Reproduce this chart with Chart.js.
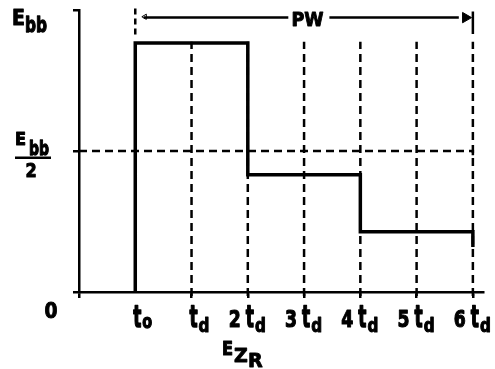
<!DOCTYPE html>
<html>
<head>
<meta charset="utf-8">
<script src="https://cdn.jsdelivr.net/npm/chart.js@4"></script>
<style>
  html, body { margin: 0; padding: 0; background: #fff; }
  #wrap { width: 495px; height: 369px; }
</style>
</head>
<body>
<div id="wrap"><canvas id="pulse"></canvas></div>
<script>
// x in units of t_d measured from t_o, y as a fraction of Ebb
const xTicks = [0, 1, 2, 3, 4, 5, 6];
const xTickCoef = ['', '', '2', '3', '4', '5', '6'];
const xTickSub = ['o', 'd', 'd', 'd', 'd', 'd', 'd'];
const xAxisTicks = [-1, 1, 2, 3, 4, 5, 6];
const yAxisTicks = [0, 0.5, 1];

const pulseX = [0, 0, 2, 2, 4, 4, 6, 6];
const pulseY = [0, 0.883, 0.883, 0.416, 0.416, 0.214, 0.214, 0.16];

const dashedX = [1, 2, 3, 4, 5, 6];
const dashedTop = 0.887;
const halfLevel = 0.5;
const pwLevel = 0.973;

const font = '"DejaVu Sans", sans-serif';

function pts(xs, ys) {
    return xs.map((x, i) => ({x: x, y: ys[i]}));
}

const datasets = [];

// pulse
datasets.push({
    data: pts(pulseX, pulseY),
    borderColor: '#000', borderWidth: 3.5, pointRadius: 0
});

// dashed t_d lines
dashedX.forEach(x => {
    datasets.push({
        data: pts([x, x], [-0.014, dashedTop]),
        borderColor: '#000', borderWidth: 2.5, borderDash: [8, 5], pointRadius: 0
    });
});

// Ebb/2 level
datasets.push({
    data: pts([-1, 6, 6], [halfLevel, halfLevel, halfLevel - 0.015]),
    borderColor: '#000', borderWidth: 2.5, borderDash: [8, 5], pointRadius: 0
});

// dashed line above t_o
datasets.push({
    data: pts([0, 0], [1.005, 0.905]),
    borderColor: '#000', borderWidth: 2.5, borderDash: [6, 4], pointRadius: 0
});

// PW arrow line, broken for the label
datasets.push({
    data: [{x: 0.15, y: pwLevel}, {x: 2.72, y: pwLevel}, {x: 2.9, y: null}, {x: 3.45, y: pwLevel}, {x: 5.75, y: pwLevel}],
    borderColor: '#000', borderWidth: 2.5, pointRadius: 0, spanGaps: false
});
// PW end mark at 6t_d
datasets.push({
    data: pts([6, 6], [0.995, 0.915]),
    borderColor: '#000', borderWidth: 2.5, pointRadius: 0
});
// arrow heads
datasets.push({
    data: [{x: 5.87, y: pwLevel}],
    showLine: false, pointStyle: 'triangle', rotation: 90, pointRadius: 6,
    backgroundColor: '#000', borderColor: '#000', borderWidth: 1
});
datasets.push({
    data: [{x: 0.17, y: pwLevel + 0.003}],
    showLine: false, pointStyle: 'triangle', rotation: -90, pointRadius: 3,
    backgroundColor: '#fff', borderColor: '#000', borderWidth: 1
});

// narrow hand lettering: draw text squeezed horizontally by sx
function txt(ctx, s, x, y, size, align, sx) {
    ctx.save();
    ctx.font = 'bold ' + size + 'px ' + font;
    const w = ctx.measureText(s).width * sx;
    let left = x;
    if (align === 'center') left = x - w / 2;
    if (align === 'right') left = x - w;
    ctx.translate(left, y);
    ctx.scale(sx, 1);
    ctx.textAlign = 'left';
    ctx.lineWidth = 0.9 / sx;
    ctx.lineJoin = 'round';
    ctx.strokeStyle = '#000';
    ctx.fillText(s, 0, 0);
    ctx.strokeText(s, 0, 0);
    ctx.restore();
    return w;
}

const labels = {
    id: 'labels',
    afterDraw(chart) {
        const ctx = chart.ctx;
        const xs = chart.scales.x, ys = chart.scales.y;
        ctx.save();
        ctx.fillStyle = '#000';
        ctx.textBaseline = 'alphabetic';

        // x tick labels: coefficient, t, subscript
        xTicks.forEach((v, i) => {
            const px = xs.getPixelForValue(v) + 2;
            const tw = txt(ctx, 't', px, 327, 31, 'center', 0.55);
            if (xTickCoef[i]) {
                txt(ctx, xTickCoef[i], px - tw / 2 - 5, 327, 23, 'right', 0.75);
            }
            if (xTickSub[i] === 'o') {
                txt(ctx, 'o', px + tw / 2 + 1, 328, 20, 'left', 0.72);
            } else {
                txt(ctx, 'd', px + tw / 2 + 1, 332, 19, 'left', 0.8);
            }
        });

        // zero label
        txt(ctx, '0', 51, 318, 22, 'center', 0.85);

        // Ebb at top
        txt(ctx, 'E', 12, 25, 21, 'left', 0.9);
        txt(ctx, 'bb', 25, 32, 22, 'left', 0.7);

        // Ebb / 2
        txt(ctx, 'E', 15, 145, 17, 'left', 0.95);
        txt(ctx, 'bb', 29, 155, 20, 'left', 0.7);
        ctx.fillRect(15, 156.5, 36, 2.5);
        txt(ctx, '2', 31, 177, 19, 'center', 0.85);

        // PW
        txt(ctx, 'PW', xs.getPixelForValue(3.06), ys.getPixelForValue(pwLevel) + 8, 19, 'center', 0.92);

        // axis title E_ZR
        txt(ctx, 'E', 222, 355, 19, 'left', 0.85);
        txt(ctx, 'Z', 234, 362, 19, 'left', 1);
        txt(ctx, 'R', 248, 367, 19, 'left', 1);

        ctx.restore();
    }
};

new Chart(
    'pulse',
    {
        type: 'line',
        data: {datasets: datasets},
        options: {
            animation: false,
            responsive: true,
            maintainAspectRatio: false,
            layout: {
                padding: {left: 73, right: 12, top: 10, bottom: 71}
            },
            scales: {
                x: {
                    type: 'linear',
                    min: -1,
                    max: 6.18,
                    afterBuildTicks: (scale) => {
                        scale.ticks = xAxisTicks.map(v => ({value: v}));
                    },
                    border: {display: true, color: '#000', width: 2.5},
                    grid: {
                        display: true, drawOnChartArea: false, drawTicks: true,
                        tickLength: 6, color: '#000', lineWidth: 2.5
                    },
                    ticks: {display: false}
                },
                y: {
                    type: 'linear',
                    min: 0,
                    max: 1,
                    afterBuildTicks: (scale) => {
                        scale.ticks = yAxisTicks.map(v => ({value: v}));
                    },
                    border: {display: true, color: '#000', width: 2.5},
                    grid: {
                        display: true, drawOnChartArea: false, drawTicks: true,
                        tickLength: 6, color: '#000', lineWidth: 2.5
                    },
                    ticks: {display: false}
                }
            },
            elements: {
                line: {tension: 0}
            },
            clip: false,
            plugins: {
                legend: {display: false},
                tooltip: {enabled: false}
            }
        },
        plugins: [labels]
    }
);
</script>
</body>
</html>
